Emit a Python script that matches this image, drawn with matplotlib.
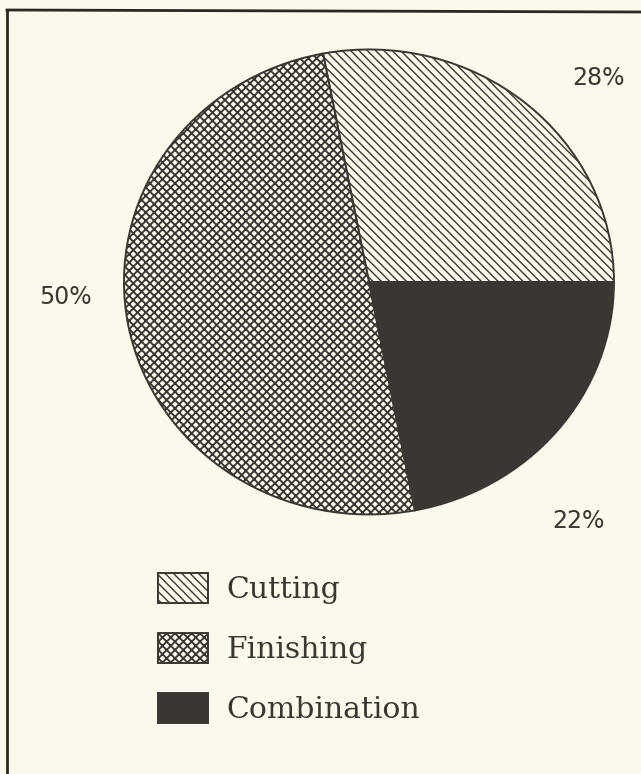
import matplotlib.pyplot as plt
from matplotlib.lines import Line2D
from matplotlib.patches import Rectangle

labels = ['Cutting', 'Finishing', 'Combination']
shares = [28, 50, 22]
pct_text = ['28%', '50%', '22%']
hatches = ['\\\\\\\\', 'xxxx', '']
hatch_lw = [1.0, 1.35, 1.0]

BG = '#fbf9ec'
INK = '#3a3632'

plt.rcParams['hatch.linewidth'] = 1.0

W, H = 641, 774
fig = plt.figure(figsize=(W / 100, H / 100), dpi=100, facecolor=BG)


def set_hatch(patch, h, lw):
    patch.set_hatch(h)
    if hasattr(patch, 'set_hatch_linewidth'):
        patch.set_hatch_linewidth(lw)


# pie slightly wider than tall, like the scan
ax = fig.add_axes([0.1934, 0.3353, 0.7644, 0.6008])
ax.set_facecolor(BG)
wedges, _ = ax.pie(shares, startangle=0, counterclock=True, radius=1,
                   colors=[BG, BG, INK],
                   wedgeprops=dict(edgecolor=INK, linewidth=1.4))
for w, h, lw in zip(wedges, hatches, hatch_lw):
    set_hatch(w, h, lw)
ax.set_aspect('auto')
ax.set_xlim(-1, 1)
ax.set_ylim(-1, 1)

# percent labels
pct_pos = [(598, 78), (65, 297), (578, 521)]
for txt, (px, py) in zip(pct_text, pct_pos):
    fig.text(px / W, 1 - py / H, txt, ha='center', va='center',
             fontsize=17, color=INK)

# legend drawn by hand so the boxes land where the scan has them
for i, (lab, h, lw) in enumerate(zip(labels, hatches, hatch_lw)):
    top = 573 + 60 * i
    fc = INK if i == 2 else BG
    box = Rectangle((158 / W, 1 - (top + 30) / H), 50 / W, 30 / H,
                    transform=fig.transFigure, facecolor=fc,
                    edgecolor=INK, linewidth=1.4)
    set_hatch(box, h, lw)
    fig.add_artist(box)
    fig.text(226 / W, 1 - (top + 25) / H, lab, ha='left', va='baseline',
             fontsize=21.5, family='DejaVu Serif', color=INK)

# frame (left and top only)
fig.add_artist(Line2D([7 / W, 7 / W], [0, 1 - 10 / H],
                      transform=fig.transFigure, color='#2a2724', lw=2))
fig.add_artist(Line2D([7 / W, 1], [1 - 10 / H, 1 - 12 / H],
                      transform=fig.transFigure, color='#2a2724', lw=2))

fig.savefig('out.png', dpi=100, facecolor=BG)
